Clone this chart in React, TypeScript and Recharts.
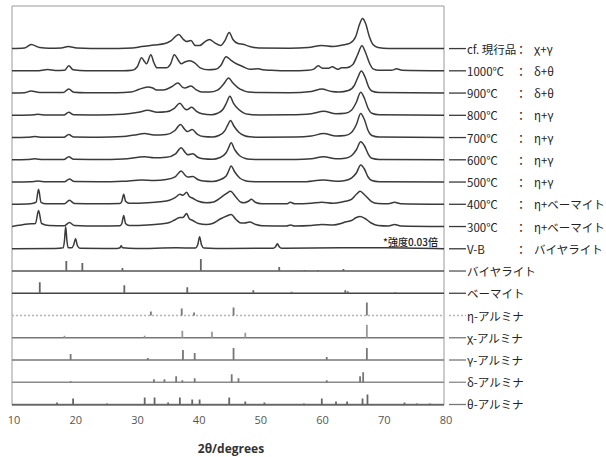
import React from 'react';
import { LineChart, Line, XAxis, YAxis, ReferenceArea } from 'recharts';

type Pt = [number, number];

// ---- x axis ----
const X_TICKS = [10, 20, 30, 40, 50, 60, 70, 80];

// ---- measured patterns: [2θ, intensity a.u.] ----
const CF_PATTERN: Pt[] = [[10,0],[12,0.5],[13.1,4],[14.5,1],[16,0.3],[18,0.5],[19.1,2],[20.5,0.5],[25,0],[29.5,0.5],[31,2],[33,3.5],[34.8,5],[35.8,8],[37.0,14],[37.8,9],[38.3,7],[39.0,8],[39.7,3],[40.4,3],[41.2,6.5],[42.0,9],[42.8,6],[43.8,3],[44.5,8],[45.2,16],[45.8,9],[46.6,5],[47.6,4],[48.5,2],[50,0.5],[55,0.3],[58,1],[60.2,3],[62,2],[63.5,3.5],[64.8,5.5],[65.7,12],[66.3,24],[66.8,30],[67.3,25],[67.9,12],[68.5,4],[69.3,1],[71,0],[80,0]];
const T1000: Pt[] = [[10,0],[14,0],[15.8,1.2],[17,0.3],[18.5,0.5],[19.2,5],[19.9,1],[22,0],[28,0],[29.5,0.5],[30.3,4],[31.0,13],[31.5,9],[31.8,7],[32.5,16],[33.0,8],[33.5,3],[35,3],[35.7,7],[36.3,16],[37.0,10],[37.4,7],[38.1,9],[38.8,10],[39.6,8],[40.5,3],[41.8,1],[43,1.5],[43.8,5],[44.7,14],[45.4,11],[46.1,8],[47.3,4.5],[48.6,1.5],[49.9,2],[50.6,1],[52,0.5],[55,0],[58,0.5],[59.0,2],[59.6,5],[60.3,2.5],[61.2,2.5],[61.9,4],[62.8,1.5],[63.4,3],[64.2,3],[65.2,6],[66.0,16],[66.7,25],[67.3,18],[67.9,8],[68.5,2],[69.5,0.5],[71.5,0.5],[72.3,2],[73.2,0.5],[80,0]];
const T900: Pt[] = [[10,0],[12,0.3],[13.1,2],[14.5,0.5],[18.3,0.5],[19.2,4],[20,0.8],[22,0.3],[27,0.3],[29.3,1],[30.5,3.5],[32.0,6],[32.8,5],[33.4,3],[34.5,3],[35.8,6],[36.9,10],[37.6,6],[38.0,5],[39.0,7],[39.8,3.5],[40.7,1],[42,1],[43.3,3],[44.3,9],[45.1,15],[45.8,10],[46.7,5],[47.5,2.5],[48.3,1],[50,0.5],[55,0.3],[58.5,1.5],[60.2,4],[61.8,1.5],[63,1],[64.5,2.5],[65.5,8],[66.0,15],[66.6,22],[67.2,16],[67.8,6],[68.3,2],[69.5,0.5],[80,0]];
const T800: Pt[] = [[10,0],[13,0.3],[14.2,1],[15.5,0.3],[18.4,0.3],[19.2,3],[20,0.5],[24,0.3],[28,1],[30.5,3],[32.0,5],[33.5,3],[35,3.5],[36.3,7],[37.2,12],[37.9,7],[38.3,5.5],[39.1,8],[39.9,4],[40.8,1.5],[42.3,0.5],[43.3,2],[44.2,6],[44.8,13],[45.3,19],[45.9,12],[46.7,6],[47.5,2.5],[48.3,1],[50,0.3],[55,0.5],[58.5,1.5],[60.5,4],[62.5,1.5],[64,2],[65,5],[65.8,13],[66.5,23],[67.1,17],[67.7,7],[68.3,2],[69.5,0.5],[80,0]];
const T700: Pt[] = [[10,0],[12.5,0.3],[13.7,1],[15,0.3],[18.4,0.3],[19.2,3],[20,0.5],[24,0.3],[28,1],[29.8,2.5],[31.5,4],[33,2.5],[35,3],[36.4,7],[37.3,13],[38.0,8],[38.4,6],[39.2,8],[40,3.5],[41,1],[42.5,0.5],[43.5,2],[44.5,7],[45.0,13],[45.4,17],[46,11],[46.8,5],[47.6,2],[48.5,0.7],[50,0.3],[56,0.5],[58.5,1.5],[60.5,4],[62.5,1.5],[64,2],[65,5],[65.8,13],[66.5,24],[67.1,18],[67.7,7],[68.3,2],[69.5,0.5],[80,0]];
const T600: Pt[] = [[10,0],[12.5,0.3],[13.7,1],[15,0.3],[18.4,0.3],[19.2,3],[20,0.5],[24,0.3],[28,0.8],[31.5,3],[33,2],[35,2.5],[36.5,6],[37.4,12],[38.1,7],[38.5,5],[39.3,6],[40.1,2.5],[41,1],[42.5,0.5],[43.6,2],[44.7,7],[45.1,12],[45.5,17],[46.1,10],[46.9,4],[47.7,1.5],[48.6,0.5],[50,0.3],[56,0.3],[58.5,1],[60.5,3],[62.5,1],[64,1.5],[65,4],[65.8,10],[66.5,18],[67.1,14],[67.7,6],[68.3,1.5],[69.5,0.3],[80,0]];
const T500: Pt[] = [[10,0],[13,0.3],[14.2,1],[15.5,0.3],[18.5,0.3],[19.3,3],[20.1,0.5],[24,0.3],[28,0.8],[31,2],[33,1.5],[35,2.5],[36.5,5.5],[37.4,11],[38.1,6.5],[38.5,5],[39.3,5.5],[40.1,2.5],[41,1],[42.5,0.5],[43.6,2],[44.7,6],[45.1,11],[45.5,16],[46.1,10],[46.9,4],[47.7,1.5],[48.6,0.5],[50,0.3],[57,0.3],[60.5,2],[63,0.8],[64,1.5],[65,4],[65.8,9],[66.5,17],[67.1,13],[67.7,5],[68.3,1.5],[69.5,0.3],[80,0]];
const T400: Pt[] = [[10,0],[13,0.5],[13.9,2],[14.3,15],[14.7,2],[15.5,0.5],[18.5,0.5],[19.3,4],[20.1,0.8],[24,0.5],[27.5,0.8],[27.8,3],[28.1,10],[28.4,3],[29,1],[32,1.5],[34,2.5],[35.5,4],[36.5,7],[37.2,10],[37.7,9],[38.3,12],[38.7,8],[39.3,6],[40.2,3],[41.5,1.5],[42.5,2],[43.9,7],[44.8,11],[45.4,13],[46.3,7],[47.1,2],[47.6,1.5],[48.3,3],[48.8,5],[49.4,2],[50.5,0.5],[54.5,0.5],[55.1,2],[55.8,0.5],[58.5,1],[60.2,2],[62,1],[63.3,2],[64,3],[65,5],[65.8,10],[66.4,13],[67.2,9],[68.2,3],[69.3,0.8],[71,0.5],[72,2],[73,0.5],[80,0]];
const T300: Pt[] = [[10,0],[12.6,2.5],[13.8,3],[14.3,16],[14.8,3],[16,1],[18.5,0.8],[19.3,4],[20.1,1],[24,0.5],[27.5,0.8],[27.8,3],[28.1,11],[28.4,3],[29,1],[32,1.5],[34,2.5],[35.5,4],[36.5,7],[37.2,9],[37.7,9],[38.3,13],[38.7,8],[39.3,6],[40.2,3],[41.5,2],[42.5,3],[43.9,8],[44.8,10.5],[45.5,12],[46.3,7],[47.1,3.5],[47.7,3.5],[48.5,4.5],[49.5,2],[50.5,0.8],[54.5,0.5],[55.1,1.5],[55.8,0.5],[58.5,1],[60.2,2],[62,1.5],[63.3,3],[64,4.5],[65,6],[65.8,9],[66.4,10],[67.2,8],[68.2,3.5],[69.3,1],[71,0.5],[72,2],[73,0.5],[80,0]];
const VB_PATTERN: Pt[] = [[10,0],[17,0.3],[18.3,1],[18.5,8],[18.7,22],[18.9,8],[19.1,1],[19.7,1],[20.0,4],[20.3,10],[20.6,3],[21,0.5],[27,0.3],[27.5,1],[27.7,3],[27.9,1],[30,0.3],[36.6,1],[39.7,0.8],[40.1,4],[40.4,12],[40.7,4],[41.1,0.8],[45,0.3],[52.3,0.5],[52.7,2],[53.0,5],[53.3,2],[53.7,0.5],[63.7,1],[70.5,1],[80,0]];

// ---- reference stick patterns: [2θ, relative intensity] ----
const BAYERITE_REF: Pt[] = [[18.8,10],[21.4,8],[27.9,3],[40.6,12],[53.3,4],[57.4,1],[59.6,1],[63.7,2]];
const BOEHMITE_REF: Pt[] = [[14.5,11],[28.2,8],[38.4,6],[49.1,3],[55.3,1.5],[64.0,3],[64.4,2],[72.1,1]];
const ETA_REF: Pt[] = [[32.5,4],[37.5,7],[39.5,3],[45.9,8],[67.5,13]];
const CHI_REF: Pt[] = [[18.5,2],[31.5,2],[37.6,7],[42.4,6],[47.8,5],[67.5,13]];
const GAMMA_REF: Pt[] = [[19.5,6],[32.0,2],[37.7,10],[39.6,7],[45.9,12],[61.0,3],[67.5,12]];
const DELTA_REF: Pt[] = [[19.5,1],[33.0,3],[34.7,3],[36.6,6],[37.6,2],[39.6,4],[45.6,8],[46.7,4],[61.0,2],[66.4,6],[66.9,10]];
const THETA_REF: Pt[] = [[17.3,2],[19.9,6],[25.4,1],[31.5,7],[33.1,7],[35.3,2],[37.2,7],[39.2,5],[40.4,5],[45.2,7],[47.8,3],[50.9,2],[57.3,1],[60.2,6],[62.5,3],[64.3,3],[66.8,6],[67.6,10],[73.6,2],[75.6,1],[77.7,1]];

// ---- row labels (top to bottom) ----
const ROW_NAMES = ['cf. 現行品', '1000℃', '900℃', '800℃', '700℃', '600℃', '500℃', '400℃', '300℃', 'V-B', 'バイヤライト', 'ベーマイト', 'η-アルミナ', 'χ-アルミナ', 'γ-アルミナ', 'δ-アルミナ', 'θ-アルミナ'];
const ROW_PHASES = ['χ+γ', 'δ+θ', 'δ+θ', 'η+γ', 'η+γ', 'η+γ', 'η+γ', 'η+ベーマイト', 'η+ベーマイト', 'バイヤライト', '', '', '', '', '', '', ''];
const ROW_PATTERNS: Pt[][] = [CF_PATTERN, T1000, T900, T800, T700, T600, T500, T400, T300, VB_PATTERN];
const ROW_REFS: Pt[][] = [BAYERITE_REF, BOEHMITE_REF, ETA_REF, CHI_REF, GAMMA_REF, DELTA_REF, THETA_REF];
const VB_NOTE = '*強度0.03倍';
const X_LABEL = '2θ/degrees';

// ---- styling ----
const W = 606;
const H = 457;
const Y_MAX = 398;
const BASE = 0.5;
const STEP = 22.19;
const N = ROW_NAMES.length;
const TRACE_COLOR = '#3a3a3a';
const REF_STYLES = [
  { base: '#555', stick: '#666', dash: undefined },
  { base: '#444', stick: '#666', dash: undefined },
  { base: '#b5b5b5', stick: '#777', dash: '2 2' },
  { base: '#777', stick: '#999', dash: undefined },
  { base: '#777', stick: '#777', dash: undefined },
  { base: '#8a8a8a', stick: '#777', dash: undefined },
  { base: '#777', stick: '#666', dash: undefined },
];

const offsetOf = (rowIdx: number) => BASE + (N - 1 - rowIdx) * STEP;

const traceSeries = ROW_PATTERNS.map((pts, i) =>
  pts.map(([x, v]) => ({ x, y: offsetOf(i) + v }))
);

const refRowIdx = (j: number) => ROW_PATTERNS.length + j;

const refBaseSeries = ROW_REFS.map((_, j) => [
  { x: 10, y: offsetOf(refRowIdx(j)) },
  { x: 80, y: offsetOf(refRowIdx(j)) },
]);

const refStickSeries = ROW_REFS.map((sticks, j) => {
  const off = offsetOf(refRowIdx(j));
  const out: { x: number; y: number | null }[] = [];
  sticks.forEach(([x, h]) => {
    out.push({ x, y: off });
    out.push({ x, y: off + h });
    out.push({ x, y: null });
  });
  return out;
});

const ROW_TICKS = ROW_NAMES.map((_, i) => offsetOf(i)).sort((a, b) => a - b);

const FONT = "'Noto Sans CJK JP', 'Noto Sans', sans-serif";

const RowTick = (props: any) => {
  const { x, y, payload } = props;
  const i = N - 1 - Math.round((payload.value - BASE) / STEP);
  const name = ROW_NAMES[i];
  const phase = ROW_PHASES[i];
  const isRef = i >= ROW_PATTERNS.length;
  const st = isRef ? REF_STYLES[i - ROW_PATTERNS.length] : null;
  return (
    <g>
      <line
        x1={x + 5}
        x2={x + 22}
        y1={y}
        y2={y}
        stroke={st ? st.base : TRACE_COLOR}
        strokeWidth={1.3}
        strokeDasharray={st ? st.dash : undefined}
      />
      <text x={x + 23} y={y} dominantBaseline="central" fontSize={11.5} fill="#222" fontFamily={FONT}>
        {name}
      </text>
      {phase ? (
        <>
          <text x={x + 77} y={y} dominantBaseline="central" textAnchor="middle" fontSize={11.5} fill="#222" fontFamily={FONT}>
            ：
          </text>
          <text x={x + 90} y={y} dominantBaseline="central" fontSize={11.5} fill="#222" fontFamily={FONT}>
            {phase}
          </text>
        </>
      ) : null}
    </g>
  );
};

const NoteLabel = (props: any) => {
  const { viewBox } = props;
  if (!viewBox) return null;
  return (
    <text
      x={viewBox.x + viewBox.width - 6}
      y={viewBox.y + viewBox.height - 3}
      textAnchor="end"
      fontSize={10}
      fontWeight={500}
      fill="#222"
      fontFamily={FONT}
    >
      {VB_NOTE}
    </text>
  );
};

export default function App() {
  const vbOff = offsetOf(ROW_PATTERNS.length - 1);
  return (
    <div style={{ position: 'absolute', left: 0, top: 0, width: W, height: H, background: '#fff' }}>
      <LineChart width={W} height={H} margin={{ top: 6, right: 0, bottom: 0, left: 12 }}>
        <XAxis
          dataKey="x"
          type="number"
          domain={[10, 80]}
          ticks={X_TICKS}
          allowDataOverflow
          height={52}
          tickSize={0}
          tickMargin={11}
          tick={{ fontSize: 11, fill: '#555', fontFamily: "'Open Sans', sans-serif", dx: 2 }}
          axisLine={{ stroke: '#555', strokeWidth: 1.2 }}
          tickLine={false}
          label={{
            value: X_LABEL,
            position: 'insideBottom',
            offset: 4,
            dx: 3,
            style: { fontSize: 12, fontWeight: 'bold', fill: '#333', fontFamily: "'Open Sans', sans-serif" },
          }}
        />
        <YAxis
          yAxisId="r"
          orientation="right"
          type="number"
          domain={[0, Y_MAX]}
          allowDataOverflow
          width={162}
          ticks={ROW_TICKS}
          interval={0}
          tickSize={0}
          tickMargin={0}
          tickLine={false}
          axisLine={false}
          tick={<RowTick />}
        />
        <ReferenceArea
          yAxisId="r"
          x1={10}
          x2={80}
          y1={0}
          y2={Y_MAX}
          fill="none"
          stroke="#9a9a9a"
          strokeWidth={1}
          ifOverflow="visible"
        />
        <ReferenceArea
          yAxisId="r"
          x1={68}
          x2={80}
          y1={vbOff}
          y2={vbOff + 8}
          fill="none"
          stroke="none"
          label={<NoteLabel />}
          ifOverflow="visible"
        />
        {refBaseSeries.map((d, j) => (
          <Line
            key={'rb' + j}
            yAxisId="r"
            data={d}
            dataKey="y"
            type="linear"
            dot={false}
            activeDot={false}
            stroke={REF_STYLES[j].base}
            strokeWidth={1.3}
            strokeDasharray={REF_STYLES[j].dash}
            isAnimationActive={false}
          />
        ))}
        {refStickSeries.map((d, j) => (
          <Line
            key={'rs' + j}
            yAxisId="r"
            data={d}
            dataKey="y"
            type="linear"
            dot={false}
            activeDot={false}
            connectNulls={false}
            stroke={REF_STYLES[j].stick}
            strokeWidth={1.8}
            isAnimationActive={false}
          />
        ))}
        {traceSeries.map((d, i) => (
          <Line
            key={'t' + i}
            yAxisId="r"
            data={d}
            dataKey="y"
            type="monotone"
            dot={false}
            activeDot={false}
            stroke={TRACE_COLOR}
            strokeWidth={1.5}
            isAnimationActive={false}
          />
        ))}
      </LineChart>
    </div>
  );
}
